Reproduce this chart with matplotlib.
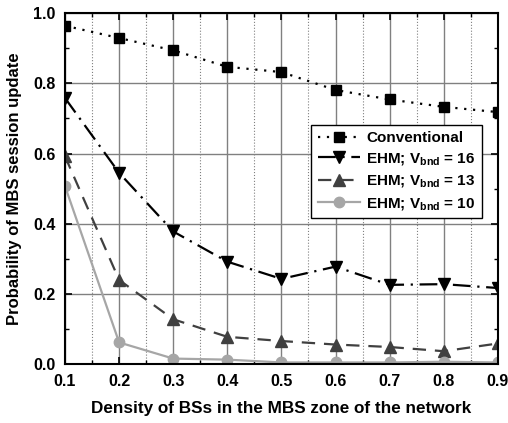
import matplotlib
matplotlib.use("Agg")
import matplotlib.pyplot as plt
from matplotlib.ticker import MultipleLocator

plt.rcParams['font.family'] = ['Liberation Sans', 'DejaVu Sans']
plt.rcParams['font.weight'] = 'bold'
plt.rcParams['mathtext.fontset'] = 'custom'
plt.rcParams['mathtext.rm'] = 'Liberation Sans:bold'
plt.rcParams['mathtext.it'] = 'Liberation Sans:bold'
plt.rcParams['mathtext.bf'] = 'Liberation Sans:bold'

density = [0.1, 0.2, 0.3, 0.4, 0.5, 0.6, 0.7, 0.8, 0.9]
conventional = [0.964, 0.929, 0.894, 0.847, 0.832, 0.781, 0.754, 0.733, 0.718]
ehm16 = [0.758, 0.545, 0.378, 0.292, 0.243, 0.278, 0.226, 0.228, 0.217]
ehm13 = [0.592, 0.240, 0.128, 0.078, 0.066, 0.056, 0.049, 0.037, 0.059]
ehm10 = [0.507, 0.062, 0.016, 0.013, 0.005, 0.005, 0.005, 0.007, 0.005]

fig = plt.figure(figsize=(5.08, 4.23), dpi=100)
ax = fig.add_axes([0.128, 0.139, 0.852, 0.830])

ax.plot(density, conventional, ls=(0, (1, 3)), color="black", lw=1.6,
        marker="s", ms=7.5, label="Conventional")
ax.plot(density, ehm16, ls=(0, (8, 3, 1, 3)), color="black", lw=1.6,
        marker="v", ms=9, label=r"EHM; $\mathregular{V_{bnd}}$ = 16")
ax.plot(density, ehm13, ls=(0, (6, 4)), color="#404040", lw=1.6,
        marker="^", ms=9, label=r"EHM; $\mathregular{V_{bnd}}$ = 13")
ax.plot(density, ehm10, ls="-", color="#a6a6a6", lw=1.6,
        marker="o", ms=7.5, label=r"EHM; $\mathregular{V_{bnd}}$ = 10")

ax.set_xlim(0.1, 0.9)
ax.set_ylim(0.0, 1.0)
ax.xaxis.set_major_locator(MultipleLocator(0.1))
ax.xaxis.set_minor_locator(MultipleLocator(0.05))
ax.yaxis.set_major_locator(MultipleLocator(0.2))
ax.yaxis.set_minor_locator(MultipleLocator(0.1))
ax.grid(True, which="major", color="#808080", lw=1.0, ls="-")
ax.grid(True, which="minor", axis="x", color="#808080", lw=0.8, ls=":")
ax.set_axisbelow(True)
ax.tick_params(which="both", direction="in", top=True, right=True, labelsize=11.5)
ax.tick_params(which="major", length=5, width=1.2, pad=7)
ax.tick_params(which="minor", length=3, width=1.0)
for s in ax.spines.values():
    s.set_linewidth(1.5)

ax.set_xlabel("Density of BSs in the MBS zone of the network", fontsize=12.3,
              fontweight="bold", labelpad=9)
ax.set_ylabel("Probability of MBS session update", fontsize=12,
              fontweight="bold", labelpad=8)

leg = ax.legend(loc="upper right", bbox_to_anchor=(0.963, 0.681), borderaxespad=0,
                fontsize=11, frameon=True, fancybox=False, edgecolor="black",
                framealpha=1, borderpad=0.4, handlelength=2.8, handletextpad=0.4,
                labelspacing=0.4)
leg.get_frame().set_linewidth(1.0)

fig.savefig("out.png", dpi=100)
